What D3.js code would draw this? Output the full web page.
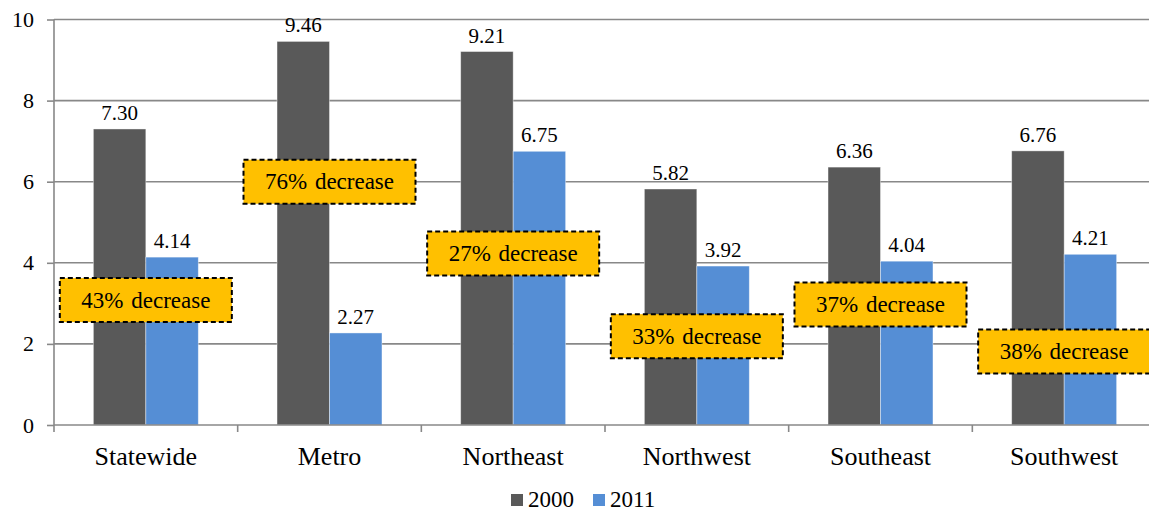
<!DOCTYPE html>
<html>
<head>
<meta charset="utf-8">
<script src="https://cdn.jsdelivr.net/npm/d3@7"></script>
<style>
  html, body { margin: 0; padding: 0; background: #fff; }
  svg { display: block; }
  svg text { font-family: "Liberation Serif", "Times New Roman", Times, serif; fill: #000; }
</style>
</head>
<body>
<svg id="chart" width="1149" height="512"></svg>
<script>
// ---- data ----
const categories = ["Statewide", "Metro", "Northeast", "Northwest", "Southeast", "Southwest"];
const seriesNames = ["2000", "2011"];
const values2000 = [7.30, 9.46, 9.21, 5.82, 6.36, 6.76];
const values2011 = [4.14, 2.27, 6.75, 3.92, 4.04, 4.21];
const decreaseLabels = ["43% decrease", "76% decrease", "27% decrease", "33% decrease", "37% decrease", "38% decrease"];
const decreaseLevels = [3.08, 6.0, 4.23, 2.19, 2.97, 1.81]; // vertical centre of each callout, in chart units
const yTicks = [0, 2, 4, 6, 8, 10];

// ---- layout ----
(function () {
const svg = d3.select("#chart");
const serif = "'Liberation Serif', 'Times New Roman', serif";
const plotLeft = 54, plotRight = 1156, plotTop = 19.5, plotBottom = 425;
const colors = { "2000": "#595959", "2011": "#558ED5" };

const x0 = d3.scaleBand().domain(categories).range([plotLeft, plotRight]).padding(0);
const x1 = d3.scaleBand().domain(seriesNames).range([0, x0.bandwidth()]).paddingInner(0).paddingOuter(0.75);
const y = d3.scaleLinear().domain([0, 10]).range([plotBottom, plotTop]);

// gridlines
svg.append("g").selectAll("line").data(yTicks.filter(d => d > 0)).join("line")
  .attr("x1", plotLeft).attr("x2", 1149)
  .attr("y1", d => y(d)).attr("y2", d => y(d))
  .attr("stroke", "#888").attr("stroke-width", 1.6);

// y axis
const yAxis = svg.append("g").attr("transform", `translate(${plotLeft},0)`)
  .call(d3.axisLeft(y).tickValues(yTicks).tickSize(7).tickPadding(13).tickFormat(d3.format("d")));
yAxis.attr("font-family", null).attr("font-size", null);
yAxis.select(".domain").attr("stroke", "#888").attr("stroke-width", 1.6).attr("d", `M0,${plotTop}V${plotBottom}`);
yAxis.selectAll(".tick line").attr("stroke", "#888").attr("stroke-width", 1.6);
yAxis.selectAll(".tick text").attr("font-size", 22).style("font-family", serif).attr("fill", "#000");

// bars
const rows = categories.map((c, i) => ({ cat: c, vals: [
  { s: "2000", v: values2000[i] }, { s: "2011", v: values2011[i] }] }));

const groups = svg.append("g").selectAll("g").data(rows).join("g")
  .attr("transform", d => `translate(${x0(d.cat)},0)`);

groups.selectAll("rect").data(d => d.vals).join("rect")
  .attr("x", d => x1(d.s)).attr("width", x1.bandwidth())
  .attr("y", d => y(d.v)).attr("height", d => y(0) - y(d.v))
  .attr("fill", d => colors[d.s])
  .attr("stroke", "#fff").attr("stroke-opacity", 0.5).attr("stroke-width", 0.8);

groups.selectAll("text.val").data(d => d.vals).join("text")
  .attr("class", "val")
  .attr("x", d => x1(d.s) + x1.bandwidth() / 2)
  .attr("y", d => y(d.v) - 9)
  .attr("text-anchor", "middle")
  .attr("font-size", 21)
  .style("font-family", serif)
  .text(d => d.v.toFixed(2));

// x axis
svg.append("line").attr("x1", plotLeft).attr("x2", 1149).attr("y1", plotBottom).attr("y2", plotBottom)
  .attr("stroke", "#888").attr("stroke-width", 1.6);
const xTickPos = categories.map(c => x0(c)).concat([x0(categories[categories.length - 1]) + x0.bandwidth()]);
svg.append("g").selectAll("line").data(xTickPos).join("line")
  .attr("x1", d => d).attr("x2", d => d).attr("y1", plotBottom).attr("y2", plotBottom + 7)
  .attr("stroke", "#888").attr("stroke-width", 1.6);
svg.append("g").selectAll("text").data(categories).join("text")
  .attr("x", d => x0(d) + x0.bandwidth() / 2)
  .attr("y", 465)
  .attr("text-anchor", "middle")
  .attr("font-size", 26)
  .style("font-family", serif)
  .text(d => d);

// callouts
const boxW = 172, boxH = 44;
const callouts = svg.append("g").selectAll("g").data(categories).join("g")
  .attr("transform", (d, i) => `translate(${x0(d) + x0.bandwidth() / 2},${y(decreaseLevels[i])})`);
callouts.append("rect")
  .attr("x", -boxW / 2).attr("y", -boxH / 2).attr("width", boxW).attr("height", boxH)
  .attr("fill", "#FFC000").attr("stroke", "#000").attr("stroke-width", 2)
  .attr("stroke-dasharray", "5,3");
callouts.append("text")
  .attr("text-anchor", "middle").attr("dy", "0.33em")
  .attr("font-size", 23)
  .attr("word-spacing", 2)
  .style("font-family", serif)
  .text((d, i) => decreaseLabels[i]);

// legend
const legend = svg.append("g").attr("transform", "translate(511,0)");
const legendItems = legend.selectAll("g").data(seriesNames).join("g")
  .attr("transform", (d, i) => `translate(${i * 82},0)`);
legendItems.append("rect").attr("x", 0).attr("y", 494).attr("width", 12).attr("height", 12)
  .attr("fill", d => colors[d]);
legendItems.append("text").attr("x", 17).attr("y", 507).attr("font-size", 23)
  .style("font-family", serif).text(d => d);
})();
</script>
</body>
</html>
